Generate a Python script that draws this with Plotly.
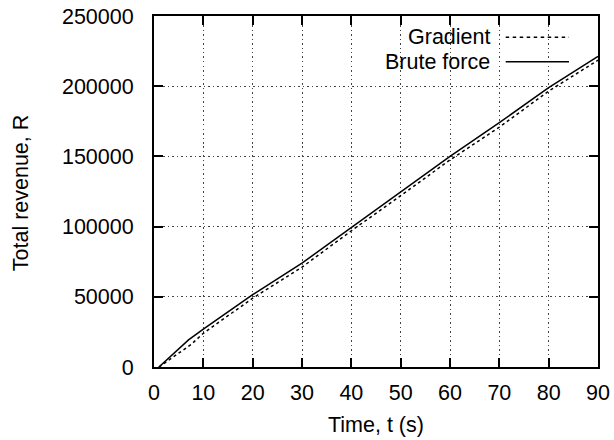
import plotly.graph_objects as go

# Data
time_brute = [1, 7, 10, 20, 30, 40, 50, 60, 70, 80, 90]
revenue_brute = [0, 19300, 27000, 51500, 74000, 99500, 125000, 150000, 174000, 199000, 221300]
time_grad = [1, 7.5, 10, 20, 30, 40, 50, 60, 70, 80, 90]
revenue_grad = [0, 16000, 24000, 49000, 71100, 97000, 122000, 147500, 170800, 196500, 218500]

x_ticks = [0, 10, 20, 30, 40, 50, 60, 70, 80, 90]
y_ticks = [0, 50000, 100000, 150000, 200000, 250000]

series_names = ["Gradient", "Brute force"]
x_title = "Time, t (s)"
y_title = "Total revenue, R"

FONT = "Liberation Sans, Arial, sans-serif"
FS = 21.5

fig = go.Figure()
fig.add_trace(go.Scatter(x=time_grad, y=revenue_grad, mode="lines", name=series_names[0],
                         line=dict(color="black", width=1.5, dash="3px,3px")))
fig.add_trace(go.Scatter(x=time_brute, y=revenue_brute, mode="lines", name=series_names[1],
                         line=dict(color="black", width=1.5)))

axis_common = dict(
    showline=True, linecolor="black", linewidth=2, mirror="allticks",
    ticks="inside", ticklen=9, tickwidth=1.5, tickcolor="black",
    showgrid=True, gridcolor="#444", gridwidth=1, griddash="1.5px,3px",
    zeroline=False, tickfont=dict(family=FONT, size=FS, color="black"),
    automargin=False,
)

fig.update_xaxes(range=[0, 90], tickvals=x_ticks, ticktext=[str(v) for v in x_ticks],
                 ticklabelstandoff=5, **axis_common)
fig.update_yaxes(range=[0, 250000], tickvals=y_ticks, ticktext=[str(v) for v in y_ticks],
                 ticklabelstandoff=14, **axis_common)

# axis titles
fig.add_annotation(xref="paper", yref="paper", x=0.5, y=-58/351, text=x_title, showarrow=False,
                   xanchor="center", yanchor="middle", font=dict(family=FONT, size=FS, color="black"))
fig.add_annotation(xref="paper", yref="paper", x=-133/444, y=0.495, text=y_title, showarrow=False,
                   textangle=-90, xanchor="center", yanchor="middle",
                   font=dict(family=FONT, size=FS, color="black"))

# legend box (clears grid), text and samples, gnuplot style
fig.add_shape(type="rect", xref="paper", yref="paper", x0=0.52, x1=0.959, y0=0.846, y1=0.974,
              fillcolor="white", line=dict(width=0), layer="between")
leg_y = [0.9393, 0.8698]
dashes = ["3.5px,3.5px", "solid"]
for name, yy, d in zip(series_names, leg_y, dashes):
    fig.add_annotation(xref="paper", yref="paper", x=0.7606, y=yy, text=name, showarrow=False,
                       xanchor="right", yanchor="middle",
                       font=dict(family=FONT, size=FS, color="black"))
    fig.add_shape(type="line", xref="paper", yref="paper", x0=0.7921, x1=0.9347, y0=yy, y1=yy,
                  line=dict(color="black", width=1.5, dash=d))

fig.update_layout(
    width=614, height=440,
    margin=dict(l=154, r=16, t=16, b=73),
    paper_bgcolor="white", plot_bgcolor="white",
    showlegend=False,
    font=dict(family=FONT, size=FS, color="black"),
)

fig.write_html("out.html")
